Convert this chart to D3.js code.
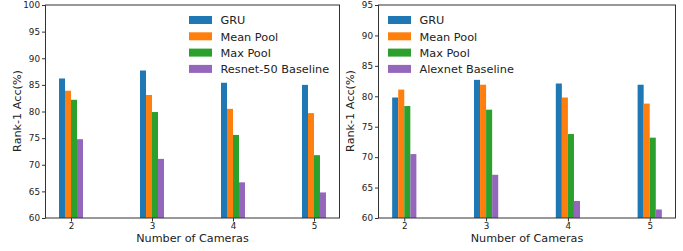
<!DOCTYPE html>
<html>
<head>
<meta charset="utf-8">
<script src="https://cdn.jsdelivr.net/npm/d3@7"></script>
<style>
  body { margin: 0; background: #fff; }
  text { font-family: "DejaVu Sans", sans-serif; fill: #222; }
</style>
</head>
<body>
<script>
// Camera counts on the x axis
var cameras = [2, 3, 4, 5];

// Left panel: Resnet-50 backbone
var leftGru      = [86.2, 87.7, 85.4, 85.0];
var leftMean     = [83.9, 83.1, 80.5, 79.7];
var leftMax      = [82.2, 79.9, 75.6, 71.8];
var leftBaseline = [74.8, 71.1, 66.7, 64.8];
var leftTicks    = [60, 65, 70, 75, 80, 85, 90, 95, 100];

// Right panel: Alexnet backbone
var rightGru      = [79.8, 82.7, 82.1, 81.9];
var rightMean     = [81.1, 81.9, 79.8, 78.8];
var rightMax      = [78.4, 77.8, 73.8, 73.2];
var rightBaseline = [70.5, 67.1, 62.8, 61.4];
var rightTicks    = [60, 65, 70, 75, 80, 85, 90, 95];

var colors = ["#1f77b4", "#ff7f0e", "#2ca02c", "#9467bd"];

var W = 683, H = 251;
var svg = d3.select("body").append("svg")
    .attr("width", W)
    .attr("height", H);

function panel(opt) {
  var x = d3.scaleLinear().domain([1.685, 5.315]).range([opt.x0, opt.x1]);
  var y = d3.scaleLinear().domain([60, opt.ymax]).range([218, 5]);
  var barW = x(2.074) - x(2);

  var g = svg.append("g");

  // bars, one group per series
  opt.series.forEach(function(s, i) {
    g.selectAll(null)
      .data(s.values)
      .enter()
      .append("rect")
      .attr("x", function(d, j) { return x(cameras[j]) + (i - 2) * barW; })
      .attr("y", function(d) { return y(d); })
      .attr("width", barW)
      .attr("height", function(d) { return y(60) - y(d); })
      .attr("fill", colors[i]);
  });

  // axes
  var xAxis = d3.axisBottom(x).tickValues(cameras).tickSize(3.5).tickPadding(1.5)
      .tickFormat(d3.format("d"));
  var yAxis = d3.axisLeft(y).tickValues(opt.ticks).tickSize(3.5).tickPadding(2)
      .tickFormat(d3.format("d"));

  var gx = g.append("g").attr("transform", "translate(0,218)").call(xAxis);
  var gy = g.append("g").attr("transform", "translate(" + opt.x0 + ",0)").call(yAxis);
  [gx, gy].forEach(function(a) {
    a.select(".domain").remove();
    a.selectAll("line").attr("stroke", "#333");
    a.selectAll("text").style("font-size", "8.8px").attr("fill", "#333");
  });

  // frame
  g.append("rect")
    .attr("x", opt.x0).attr("y", 5)
    .attr("width", opt.x1 - opt.x0).attr("height", 213)
    .attr("fill", "none").attr("stroke", "#333").attr("stroke-width", 1);

  // axis titles
  g.append("text")
    .attr("x", (opt.x0 + opt.x1) / 2).attr("y", 242)
    .attr("text-anchor", "middle")
    .style("font-size", "11.2px")
    .text("Number of Cameras");
  g.append("text")
    .attr("transform", "translate(" + (opt.x0 - 25) + ",111) rotate(-90)")
    .attr("text-anchor", "middle")
    .style("font-size", "11.2px")
    .text("Rank-1 Acc(%)");

  // legend
  var leg = g.append("g");
  opt.series.forEach(function(s, i) {
    var cy = 20 + i * 16.3;
    leg.append("rect")
      .attr("x", opt.legX).attr("y", cy - 4)
      .attr("width", 23).attr("height", 8)
      .attr("fill", colors[i]);
    leg.append("text")
      .attr("x", opt.legX + 31.5).attr("y", cy + 4.2)
      .style("font-size", "11.3px")
      .text(s.name);
  });
}

panel({
  x0: 45.5, x1: 339.5, ymax: 100, ticks: leftTicks, legX: 189,
  series: [
    { name: "GRU", values: leftGru },
    { name: "Mean Pool", values: leftMean },
    { name: "Max Pool", values: leftMax },
    { name: "Resnet-50 Baseline", values: leftBaseline }
  ]
});

panel({
  x0: 378.5, x1: 675.5, ymax: 95, ticks: rightTicks, legX: 388,
  series: [
    { name: "GRU", values: rightGru },
    { name: "Mean Pool", values: rightMean },
    { name: "Max Pool", values: rightMax },
    { name: "Alexnet Baseline", values: rightBaseline }
  ]
});
</script>
</body>
</html>
